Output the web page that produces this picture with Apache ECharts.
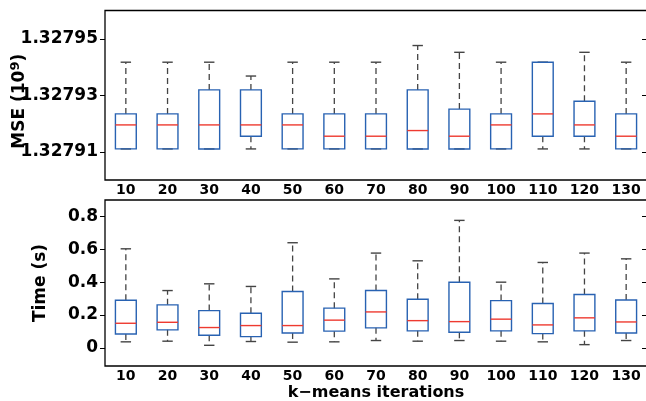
<!DOCTYPE html>
<html><head><meta charset="utf-8">
<script src="https://cdn.jsdelivr.net/npm/echarts@6/dist/echarts.min.js"></script>
<style>html,body{margin:0;padding:0;background:#fff}#c{width:646px;height:401px}</style>
</head><body><div id="c"></div>
<script>
const categories = ['10','20','30','40','50','60','70','80','90','100','110','120','130'];

// MSE (10^9) box statistics
const mseLow  = [1.327911,1.327911,1.327911,1.327911,1.327911,1.327911,1.327911,1.327911,1.327911,1.327911,1.327911,1.327911,1.327911];
const mseQ1   = [1.327911,1.327911,1.327911,1.3279155,1.327911,1.327911,1.327911,1.327911,1.327911,1.327911,1.3279155,1.3279155,1.327911];
const mseMed  = [1.3279195,1.3279195,1.3279195,1.3279195,1.3279195,1.3279155,1.3279155,1.3279175,1.3279155,1.3279195,1.3279234,1.3279195,1.3279155];
const mseQ3   = [1.3279234,1.3279234,1.3279319,1.3279319,1.3279234,1.3279234,1.3279234,1.3279319,1.3279251,1.3279234,1.3279417,1.3279279,1.3279234];
const mseHigh = [1.3279417,1.3279417,1.3279417,1.3279368,1.3279417,1.3279417,1.3279417,1.3279476,1.3279452,1.3279417,1.3279417,1.3279452,1.3279417];
const mseTicks = [1.32791, 1.32793, 1.32795];

// Time (s) box statistics
const timeLow  = [0.037,0.041,0.016,0.039,0.035,0.037,0.045,0.041,0.045,0.041,0.037,0.020,0.045];
const timeQ1   = [0.085,0.110,0.077,0.069,0.091,0.102,0.122,0.104,0.095,0.104,0.087,0.104,0.091];
const timeMed  = [0.150,0.156,0.124,0.136,0.136,0.169,0.219,0.166,0.160,0.175,0.140,0.183,0.158];
const timeQ3   = [0.290,0.262,0.227,0.211,0.343,0.242,0.349,0.296,0.400,0.288,0.270,0.325,0.292];
const timeHigh = [0.603,0.349,0.390,0.374,0.640,0.420,0.577,0.530,0.776,0.400,0.520,0.577,0.542];
const timeTicks = [0, 0.2, 0.4, 0.6, 0.8];

const FONT = 'DejaVu Sans';

function rows(lo, q1, med, q3, hi) {
  return categories.map((c, i) => [i, lo[i], q1[i], med[i], q3[i], hi[i]]);
}

function renderBox(params, api) {
  const i = api.value(0);
  const pLo = api.coord([i, api.value(1)]);
  const pQ1 = api.coord([i, api.value(2)]);
  const pMed = api.coord([i, api.value(3)]);
  const pQ3 = api.coord([i, api.value(4)]);
  const pHi = api.coord([i, api.value(5)]);
  const band = api.size([1, 0])[0];
  const half = band * 0.25, cap = band * 0.125;
  const x = pLo[0];
  const dash = { stroke: '#444', lineWidth: 1.3, lineDash: [6, 4] };
  const solid = { stroke: '#444', lineWidth: 1.4 };
  return { type: 'group', children: [
    { type: 'line', shape: { x1: x, y1: pQ3[1], x2: x, y2: pHi[1] }, style: dash },
    { type: 'line', shape: { x1: x, y1: pQ1[1], x2: x, y2: pLo[1] }, style: dash },
    { type: 'line', shape: { x1: x - cap, y1: pHi[1], x2: x + cap, y2: pHi[1] }, style: solid },
    { type: 'line', shape: { x1: x - cap, y1: pLo[1], x2: x + cap, y2: pLo[1] }, style: solid },
    { type: 'rect', shape: { x: x - half, y: pQ3[1], width: 2 * half, height: pQ1[1] - pQ3[1] },
      style: { fill: 'none', stroke: '#2862b2', lineWidth: 1.4 } },
    { type: 'line', shape: { x1: x - half, y1: pMed[1], x2: x + half, y2: pMed[1] },
      style: { stroke: '#ee3a30', lineWidth: 1.4 } }
  ]};
}

const tickStyle = { color: '#000', width: 1 };
function xAx(grid, name) {
  return {
    gridIndex: grid, type: 'category', data: categories, boundaryGap: true,
    axisLine: { show: false }, axisTick: { show: false }, splitLine: { show: false },
    axisLabel: { color: '#000', fontFamily: FONT, fontWeight: 'bold', fontSize: 14, margin: 3, interval: 0 },
    name: name || '', nameLocation: 'middle', nameGap: 19, nameMoveOverlap: false,
    nameTextStyle: { color: '#000', fontFamily: FONT, fontWeight: 'bold', fontSize: 16 }
  };
}
function yLeft(grid, min, max, ticks, fmt, name, gap, rich, pad) {
  return {
    gridIndex: grid, type: 'value', min: min, max: max, position: 'left',
    axisLine: { show: false }, splitLine: { show: false },
    axisTick: { show: true, inside: false, length: 5, customValues: ticks, lineStyle: tickStyle },
    axisLabel: { customValues: ticks, formatter: fmt, color: '#000', fontFamily: FONT, fontWeight: 'bold', fontSize: 17, margin: 7 },
    name: name, nameLocation: 'middle', nameGap: gap, nameMoveOverlap: false,
    nameTextStyle: { color: '#000', fontFamily: FONT, fontWeight: 'bold', fontSize: 17, rich: rich || {}, padding: pad || 0 }
  };
}
function yRight(grid, min, max, ticks) {
  return {
    gridIndex: grid, type: 'value', min: min, max: max, position: 'right',
    axisLine: { show: false }, splitLine: { show: false },
    axisTick: { show: true, inside: true, length: 5, customValues: ticks, lineStyle: tickStyle },
    axisLabel: { show: false, customValues: ticks }
  };
}

const chart = echarts.init(document.getElementById('c'), null, { renderer: 'canvas' });
chart.setOption({
  animation: false,
  backgroundColor: '#fff',
  grid: [
    { left: 105, top: 10.5, width: 542, height: 169.5, outerBoundsMode: 'none', containLabel: false,
      show: true, borderColor: '#000', borderWidth: 1.3, backgroundColor: 'transparent' },
    { left: 105, top: 200, width: 542, height: 166, outerBoundsMode: 'none', containLabel: false,
      show: true, borderColor: '#000', borderWidth: 1.3, backgroundColor: 'transparent' }
  ],
  xAxis: [ xAx(0), xAx(1, 'k\u2212means iterations') ],
  yAxis: [
    yLeft(0, 1.3279, 1.32796, mseTicks, v => v.toFixed(5), 'MSE (10{sup|9})', 75,
      { sup: { fontSize: 13, fontFamily: FONT, fontWeight: 'bold', color: '#000', verticalAlign: 'bottom', padding: [0, 0, 8, 0] } },
      [0, 12, 0, 0]),
    yRight(0, 1.3279, 1.32796, mseTicks),
    yLeft(1, -0.11, 0.9, timeTicks, v => (v === 0 ? '0' : v.toFixed(1)), 'Time (s)', 56),
    yRight(1, -0.11, 0.9, timeTicks)
  ],
  series: [
    { type: 'custom', xAxisIndex: 0, yAxisIndex: 0, renderItem: renderBox,
      encode: { x: 0, y: [1, 2, 3, 4, 5] }, data: rows(mseLow, mseQ1, mseMed, mseQ3, mseHigh) },
    { type: 'custom', xAxisIndex: 1, yAxisIndex: 2, renderItem: renderBox,
      encode: { x: 0, y: [1, 2, 3, 4, 5] }, data: rows(timeLow, timeQ1, timeMed, timeQ3, timeHigh) }
  ]
});
</script></body></html>
